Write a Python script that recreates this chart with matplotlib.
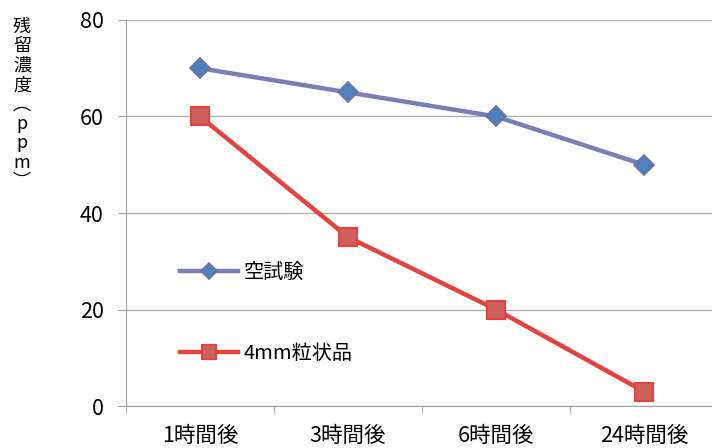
import matplotlib.pyplot as plt
import numpy as np

plt.rcParams['font.family'] = ['Noto Sans CJK JP', 'DejaVu Sans']

categories = ["1時間後", "3時間後", "6時間後", "24時間後"]
blank_test = [70, 65, 60, 50]
granule_4mm = [60, 35, 20, 3]
series_names = ["空試験", "4mm粒状品"]
y_ticks = [0, 20, 40, 60, 80]

fig = plt.figure(figsize=(7.12, 4.48), dpi=100)
ax = fig.add_axes([126 / 712, 1 - 406 / 448, 592 / 712, 386 / 448])

x = np.arange(len(categories))
ax.plot(x, blank_test, color="#7b7db6", lw=3.2, marker="D", ms=10,
        mfc="#4f81bd", mec="#7070a8", mew=1.2, label=series_names[0], zorder=3)
ax.plot(x, granule_4mm, color="#e8403c", lw=3.2, marker="s", ms=13,
        mfc="#cd5f5c", mec="#e84040", mew=1.5, label=series_names[1], zorder=3)

ax.set_xlim(-0.5, len(categories) - 0.5)
ax.set_ylim(0, 80)
ax.set_yticks(y_ticks)
ax.set_xticks(x)
ax.set_xticklabels(categories, fontsize=15.5)
ax.set_xticks(np.arange(len(categories) + 1) - 0.5, minor=True)
ax.tick_params(axis="x", which="major", length=0, pad=14)
ax.tick_params(axis="x", which="minor", length=6, color="#a0a0a0")
ax.tick_params(axis="y", length=6, color="#a0a0a0", labelsize=15.5, pad=10)
ax.grid(axis="y", color="#b0b0b0", lw=1)
ax.set_axisbelow(True)
for s in ["top", "right"]:
    ax.spines[s].set_visible(False)
for s in ["left", "bottom"]:
    ax.spines[s].set_color("#a0a0a0")

fig.text(22 / 712, 1 - 18 / 448, "残\n留\n濃\n度\n︵\np\np\nm\n︶", fontsize=13,
         ha="center", va="top", linespacing=1.1)

leg = ax.legend(loc="upper left", bbox_to_anchor=(0.06, 0.42), frameon=False,
                fontsize=14.5, labelspacing=3.0, handlelength=2.9, handletextpad=0.3,
                markerscale=0.8)

fig.savefig("out.png", dpi=100)
